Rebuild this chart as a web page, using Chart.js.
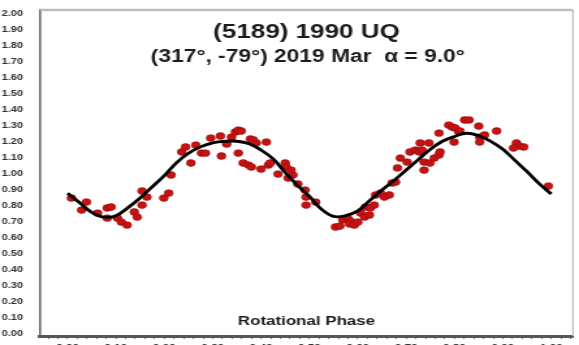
<!DOCTYPE html>
<html>
<head>
<meta charset="utf-8">
<script src="https://cdn.jsdelivr.net/npm/chart.js@4"></script>
<style>
  html, body { margin: 0; padding: 0; background: #fff; overflow: hidden; }
  #lc { display: block; }
</style>
</head>
<body>
<!-- bitmap is drawn narrow and widened by css, the way the plot is laid out -->
<canvas id="lc" width="445" height="360" style="width:579px;height:360px"></canvas>
<script>
const titleText = '(5189) 1990 UQ';
const subText = '(317\u00b0, -79\u00b0) 2019 Mar  \u03b1 = 9.0\u00b0';
const xTitle = 'Rotational Phase';

// fourier fit of the lightcurve
const fitPhase = [0, 0.025, 0.05, 0.075, 0.1, 0.125, 0.15, 0.175, 0.2, 0.225,
  0.25, 0.275, 0.3, 0.325, 0.35, 0.375, 0.4, 0.425, 0.45, 0.475,
  0.5, 0.525, 0.55, 0.575, 0.6, 0.625, 0.65, 0.675, 0.7, 0.725,
  0.75, 0.775, 0.8, 0.825, 0.85, 0.875, 0.9, 0.925, 0.95, 0.975, 1.0];
const fitMag = [0.88, 0.82, 0.76, 0.73, 0.74, 0.79, 0.85, 0.92, 0.99, 1.07,
  1.13, 1.17, 1.195, 1.205, 1.205, 1.19, 1.15, 1.095, 1.01, 0.93,
  0.86, 0.78, 0.735, 0.74, 0.77, 0.835, 0.90, 0.96, 1.025, 1.09,
  1.155, 1.205, 1.235, 1.255, 1.24, 1.205, 1.155, 1.085, 1.015, 0.94, 0.875];

// observations, phased
const obsPhase = [0.008, 0.039, 0.029, 0.062, 0.082, 0.090, 0.082, 0.103, 0.111, 0.123,
  0.138, 0.144, 0.154, 0.154, 0.164, 0.199, 0.209, 0.214, 0.236, 0.244,
  0.255, 0.265, 0.277, 0.285, 0.296, 0.316, 0.318, 0.329, 0.339, 0.347,
  0.353, 0.359, 0.353, 0.363, 0.374, 0.380, 0.378, 0.384, 0.390, 0.400,
  0.411, 0.415, 0.419, 0.435, 0.450, 0.452, 0.462, 0.466, 0.456, 0.476,
  0.491, 0.493, 0.493,
  0.513, 0.554, 0.563, 0.569, 0.579, 0.585, 0.583, 0.593, 0.600, 0.606,
  0.614, 0.624, 0.616, 0.626, 0.634, 0.637, 0.647, 0.655, 0.665, 0.671,
  0.678, 0.682, 0.688, 0.702, 0.708, 0.719, 0.727, 0.733, 0.729, 0.737,
  0.737, 0.747, 0.749, 0.758, 0.768, 0.770, 0.768, 0.788, 0.795, 0.801,
  0.799, 0.809, 0.811, 0.821, 0.830, 0.850, 0.852, 0.862, 0.852, 0.887,
  0.928, 0.934, 0.943, 0.922, 0.994];
const obsMag = [0.85, 0.825, 0.775, 0.756, 0.788, 0.794, 0.725, 0.725, 0.70, 0.681,
  0.763, 0.731, 0.806, 0.894, 0.856, 0.85, 0.881, 0.994, 1.138, 1.169,
  1.069, 1.181, 1.131, 1.131, 1.225, 1.238, 1.113, 1.188, 1.231, 1.263,
  1.275, 1.269, 1.131, 1.069, 1.056, 1.044, 1.219, 1.213, 1.194, 1.031,
  1.20, 1.056, 1.069, 1.00, 1.069, 1.044, 1.025, 0.994, 0.975, 0.938,
  0.90, 0.856, 0.806,
  0.825, 0.669, 0.675, 0.713, 0.725, 0.706, 0.688, 0.681, 0.70, 0.756,
  0.731, 0.744, 0.794, 0.788, 0.806, 0.869, 0.881, 0.856, 0.869, 0.944,
  0.95, 1.038, 1.10, 1.075, 1.138, 1.15, 1.138, 1.15, 1.194, 1.075,
  1.025, 1.194, 1.069, 1.10, 1.119, 1.138, 1.256, 1.306, 1.294, 1.288,
  1.20, 1.263, 1.269, 1.338, 1.338, 1.30, 1.231, 1.244, 1.20, 1.269,
  1.194, 1.175, 1.169, 1.163, 0.925];

const yTicks = [0, 0.1, 0.2, 0.3, 0.4, 0.5, 0.6, 0.7, 0.8, 0.9, 1.0,
  1.1, 1.2, 1.3, 1.4, 1.5, 1.6, 1.7, 1.8, 1.9, 2.0];
const xTickLabels = ['0.00', '0.10', '0.20', '0.30', '0.40', '0.50',
  '0.60', '0.70', '0.80', '0.90', '1.00'];

// minor tick marks along the phase axis every 0.02
const xMinor = [];
for (let k = -2; k <= 52; k++) xMinor.push(Math.round(k * 2) / 100);

const SX = 579 / 445; // css widening of the bitmap
const bold = (s) => ({ family: '"Liberation Sans", Arial, sans-serif', size: s, weight: 'bold' });

const overlay = {
  id: 'overlay',
  afterDatasetsDraw(chart) {
    const { ctx, chartArea: a } = chart;
    ctx.save();
    // light frame on top and right
    ctx.strokeStyle = '#bdbdbd';
    ctx.lineWidth = 2.5;
    ctx.beginPath();
    ctx.moveTo(a.left, a.top);
    ctx.lineTo(a.right, a.top);
    ctx.stroke();
    ctx.lineWidth = 1.3;
    ctx.beginPath();
    ctx.moveTo(a.right, a.top);
    ctx.lineTo(a.right, a.bottom);
    ctx.stroke();

    const cx = (a.left + a.right) / 2;
    ctx.fillStyle = '#1c1c1c';
    ctx.textAlign = 'center';
    ctx.textBaseline = 'alphabetic';
    ctx.font = 'bold 20px "Liberation Sans", Arial, sans-serif';
    ctx.fillText(titleText, cx, 38);
    ctx.font = 'bold 17.5px "Liberation Sans", Arial, sans-serif';
    ctx.fillText(subText, cx + 1, 62);
    ctx.font = 'bold 13px "Liberation Sans", Arial, sans-serif';
    ctx.fillText(xTitle, cx, 325);
    ctx.restore();
  }
};

new Chart(document.getElementById('lc'), {
  type: 'scatter',
  data: {
    datasets: [{
      label: 'fit',
      data: fitPhase.map((p, i) => ({ x: p, y: fitMag[i] })),
      showLine: true,
      borderColor: '#000',
      borderWidth: 2.8,
      tension: 0.4,
      pointRadius: 0,
      order: 0
    }, {
      label: 'obs',
      data: obsPhase.map((p, i) => ({ x: p, y: obsMag[i] })),
      pointRadius: 3.4,
      backgroundColor: '#c51212',
      borderColor: '#9a0b0b',
      borderWidth: 0.6,
      order: 1
    }]
  },
  options: {
    responsive: false,
    animation: false,
    devicePixelRatio: 1,
    layout: { padding: { top: 10, right: 445 - 577 / SX, bottom: 0, left: 0 } },
    plugins: { legend: { display: false }, tooltip: { enabled: false } },
    scales: {
      x: {
        type: 'linear',
        min: -0.057,
        max: 1.045,
        afterBuildTicks: (s) => { s.ticks = xMinor.map(v => ({ value: v })); },
        afterFit: (s) => { s.height = 24; },
        grid: { drawOnChartArea: false, drawTicks: true, tickLength: 3, color: '#777', lineWidth: 1 },
        border: { color: '#575757', width: 3 },
        ticks: {
          autoSkip: false,
          maxRotation: 0,
          padding: 3,
          color: '#333',
          font: bold(9),
          callback: (v) => {
            const i = Math.round(v * 10);
            return (Math.abs(v * 10 - i) < 1e-6 && i >= 0 && i <= 10) ? xTickLabels[i] : '';
          }
        }
      },
      y: {
        min: -0.0125,
        max: 2.025,
        afterBuildTicks: (s) => { s.ticks = yTicks.map(v => ({ value: v })); },
        afterFit: (s) => { s.width = 40 / SX; },
        grid: { display: false },
        border: { color: '#666', width: 1.6 },
        ticks: {
          padding: 5,
          color: '#333',
          font: bold(8.5),
          callback: (v) => v.toFixed(2)
        }
      }
    }
  },
  plugins: [overlay]
});
</script>
</body>
</html>
